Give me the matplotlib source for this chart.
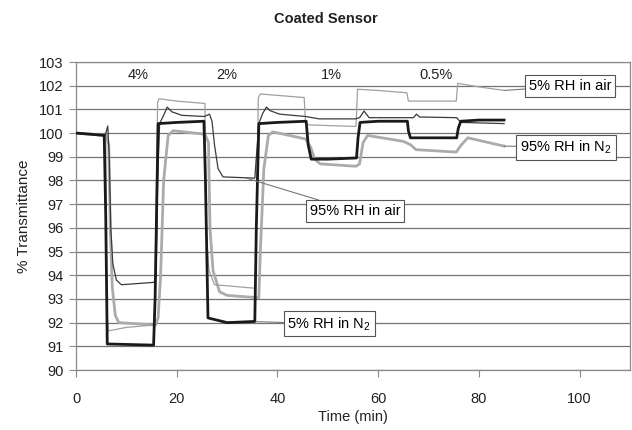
import numpy as np
from matplotlib import pyplot as plt

plt.rcParams['font.family'] = ['Liberation Sans', 'DejaVu Sans']
plt.rcParams['mathtext.fontset'] = 'custom'
plt.rcParams['mathtext.rm'] = 'Liberation Sans'


# Traces (time in min, % transmittance)
t_n2_5 = [0, 3, 5.6, 5.9, 6.2, 15.4, 15.7, 16.3, 20, 25.4, 25.7, 26.2, 30, 35.5, 35.8, 36.3,
          40, 45.7, 46.1, 46.7, 50, 55.7, 56.0, 56.4, 60, 65.8, 66.0, 66.4, 70, 75.6, 75.9,
          76.4, 80, 85]
v_n2_5 = [100.0, 99.95, 99.9, 96.5, 91.1, 91.05, 93.0, 100.4, 100.45, 100.5, 98.0, 92.2,
          92.0, 92.05, 96.0, 100.4, 100.45, 100.5, 99.5, 98.9, 98.9, 98.95, 99.8, 100.45,
          100.5, 100.5, 100.1, 99.8, 99.8, 99.8, 100.2, 100.5, 100.55, 100.55]

t_air_95 = [0, 3, 5.8, 6.3, 6.6, 6.9, 7.3, 8.0, 9.0, 15.5, 15.9, 16.2, 16.6, 17.5, 18.1, 19,
            21, 25.5, 26.5, 27.0, 27.5, 28.2, 29.2, 35.5, 36.3, 37.0, 37.8, 38.5, 40.4,
            45.6, 48.3, 55.5, 56.3, 57.2, 58.2, 67.0, 67.6, 68.2, 75.6, 76.4, 85]
v_air_95 = [100.0, 99.95, 99.9, 100.3, 99.0, 96.0, 94.5, 93.8, 93.6, 93.7, 94.0, 98.0,
            100.4, 100.8, 101.1, 100.9, 100.75, 100.7, 100.8, 100.5, 99.5, 98.5, 98.15,
            98.1, 100.4, 100.8, 101.1, 100.95, 100.8, 100.7, 100.6, 100.6, 100.65, 100.93,
            100.65, 100.65, 100.8, 100.68, 100.65, 100.45, 100.4]

t_air_5 = [0, 3, 5.9, 6.1, 6.4, 10, 15.5, 15.8, 16.2, 16.5, 20, 25.6, 25.8, 26.4, 27.5, 35.6,
           35.9, 36.2, 36.6, 45.3, 45.6, 55.6, 55.9, 60, 65.7, 66.0, 75.5, 75.8, 80, 85]
v_air_5 = [100.0, 99.95, 99.9, 92.5, 91.65, 91.8, 91.9, 95.0, 101.3, 101.45, 101.35,
           101.25, 96.0, 94.2, 93.6, 93.45, 97.0, 101.5, 101.65, 101.5, 100.35, 100.28,
           101.85, 101.8, 101.7, 101.35, 101.35, 102.1, 101.95, 101.8]

t_n2_95 = [0, 3, 6.0, 6.5, 6.8, 7.2, 7.8, 8.5, 15.8, 16.3, 16.8, 17.4, 18.3, 19.3, 25.6,
           26.3, 26.6, 27.2, 28.5, 30, 36.3, 36.6, 37.3, 38.2, 39.1, 45.6, 46.6, 47.4, 48.5,
           55.6, 56.3, 57.0, 57.9, 65.0, 66.5, 67.5, 75.5, 76.5, 77.8, 85]
v_n2_95 = [100.0, 99.95, 99.9, 99.5, 96.0, 93.5, 92.3, 92.0, 91.9, 92.2, 94.0, 98.0, 99.9,
           100.1, 99.95, 99.6, 96.0, 94.2, 93.3, 93.15, 93.05, 95.0, 98.5, 99.9, 100.05,
           99.75, 99.4, 98.9, 98.7, 98.6, 98.7, 99.6, 99.9, 99.65, 99.5, 99.3, 99.2, 99.5,
           99.8, 99.45]

step_labels = ['4%', '2%', '1%', '0.5%']
step_times = [12.3, 30.0, 50.7, 71.5]


fig = plt.figure(figsize=(6.32, 4.30), dpi=100)
ax = fig.add_axes([0.1203, 0.1395, 0.8765, 0.7163])

ax.plot(t_n2_95, v_n2_95, color='#ababab', lw=2.0, zorder=3)
ax.plot(t_air_5, v_air_5, color='#a0a0a0', lw=0.9, zorder=4)
ax.plot(t_air_95, v_air_95, color='#3a3a3a', lw=0.9, zorder=5)
ax.plot(t_n2_5, v_n2_5, color='#1a1a1a', lw=2.0, zorder=6)

ax.set_xlim(0, 110)
ax.set_ylim(90, 103)
ax.set_xticks(np.arange(0, 101, 20))
ax.set_yticks(np.arange(90, 104, 1))
ax.grid(axis='y', color='#737373', lw=0.9)
ax.set_axisbelow(True)
for s in ax.spines.values():
    s.set_color('#8a8a8a')
    s.set_linewidth(0.9)
ax.tick_params(direction='out', length=5, color='#8a8a8a', labelsize=10.5,
               labelcolor='#222222')
ax.tick_params(axis='x', pad=11)
ax.tick_params(axis='y', pad=4)

ax.set_xlabel('Time (min)', fontsize=10.5, color='#222222', labelpad=3)
ax.set_ylabel('% Transmittance', fontsize=11, color='#222222', labelpad=6)
fig.text(0.516, 0.956, 'Coated Sensor', ha='center', va='center', fontsize=10.5,
         fontweight='bold', color='#222222')

for lab, t in zip(step_labels, step_times):
    ax.text(t, 102.45, lab, ha='center', va='center', fontsize=10.5, color='#222222')

box = dict(boxstyle='square,pad=0.25', fc='white', ec='#555555', lw=0.8)
arrow = dict(arrowstyle='-', color='#777777', lw=0.8, shrinkA=0, shrinkB=0)
ax.annotate('5% RH in air', xy=(85, 101.8), xytext=(98.1, 101.99), ha='center',
            va='center', fontsize=10.5, bbox=box, arrowprops=arrow, zorder=8)
ax.annotate(r'95% RH in N$_\mathregular{2}$', xy=(85, 99.45), xytext=(97.3, 99.41),
            ha='center', va='center', fontsize=10.5, bbox=box, arrowprops=arrow, zorder=8)
ax.annotate('95% RH in air', xy=(33.8, 98.1), xytext=(55.4, 96.71), ha='center',
            va='center', fontsize=10.5, bbox=box, arrowprops=arrow, zorder=8)
ax.annotate(r'5% RH in N$_\mathregular{2}$', xy=(35.8, 92.04), xytext=(50.3, 91.95),
            ha='center', va='center', fontsize=10.5, bbox=box, arrowprops=arrow, zorder=8)

plt.savefig('out.png', dpi=100)
